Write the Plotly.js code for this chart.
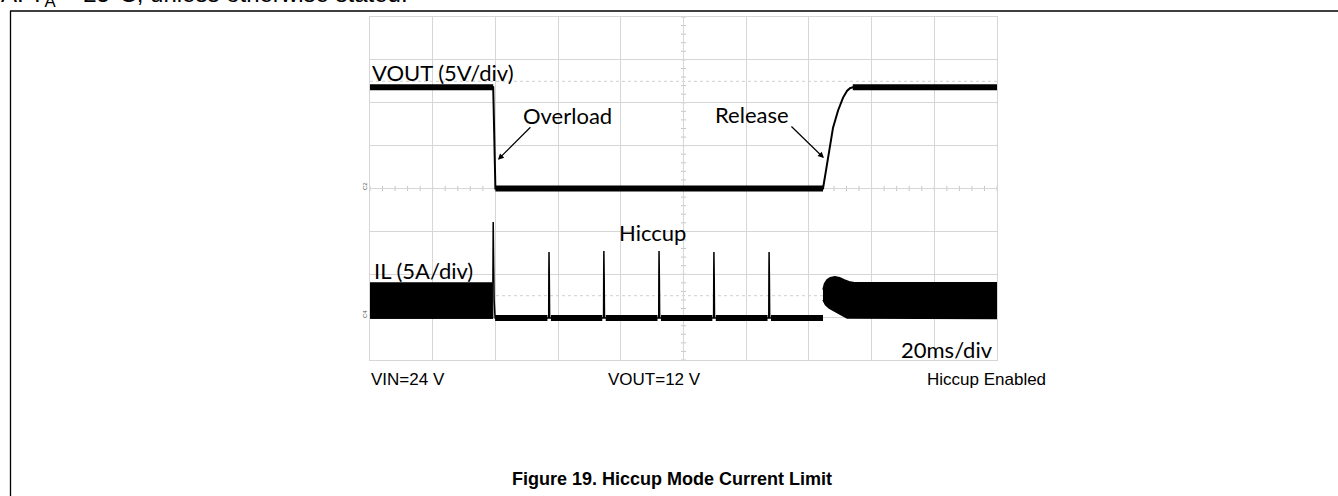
<!DOCTYPE html>
<html>
<head>
<meta charset="utf-8">
<script src="https://cdn.plot.ly/plotly-3.0.1.min.js"></script>
<style>html,body{margin:0;padding:0;background:#fff;}#chart{width:1338px;height:496px;}</style>
</head>
<body>
<div id="chart"></div>
<script>
// ---- data (time in ms, 20 ms/div; VOUT in V, 5 V/div; IL in A, 5 A/div) ----
const voutTime = [0, 39.3, 40.0, 144.5, 145.5, 146.4, 147.7, 149.3, 150.9, 152.2, 153.1, 154.0, 200];
const voutVolts = [11.8, 11.8, 0, 0, 2.2, 4.4, 7.1, 9.1, 10.6, 11.4, 11.7, 11.8, 11.8];

const ilTime = [39.2, 39.3, 39.45, 39.6, 39.9,
  56.6, 57.0, 57.05, 57.1, 57.2, 57.3, 57.7,
  74.1, 74.5, 74.55, 74.6, 74.7, 74.8, 75.2,
  91.7, 92.1, 92.15, 92.2, 92.3, 92.4, 92.8,
  109.2, 109.6, 109.65, 109.7, 109.8, 109.9, 110.3,
  126.8, 127.2, 127.25, 127.3, 127.4, 127.5, 127.9,
  144.5];
const ilAmps = [4.0, 11.1, 6.0, 2.0, -0.1,
  -0.1, -0.1, 5.0, 7.6, 4.5, -0.1, -0.1,
  -0.1, -0.1, 5.0, 7.7, 4.5, -0.1, -0.1,
  -0.1, -0.1, 5.0, 7.7, 4.5, -0.1, -0.1,
  -0.1, -0.1, 5.0, 7.6, 4.5, -0.1, -0.1,
  -0.1, -0.1, 5.0, 7.6, 4.5, -0.1, -0.1,
  -0.1];

// switching ripple envelope before overload
const ilPreTime = [0, 39.2];
const ilPreUpper = [4.0, 4.0];
const ilPreLower = [-0.15, -0.15];
// switching ripple envelope after release
const ilPostUpperTime = [144.5, 145.0, 145.8, 146.8, 148.3, 149.8, 151.3, 152.8, 154.5, 200];
const ilPostUpper = [3.2, 3.9, 4.35, 4.6, 4.7, 4.6, 4.35, 4.12, 4.0, 4.0];
const ilPostLowerTime = [144.5, 145.3, 146.5, 147.7, 149.9, 152.2, 200];
const ilPostLower = [2.0, 1.45, 1.05, 0.75, 0.36, -0.1, -0.15];

const triggerTime = [200.9];
const triggerLevel = [5.2];

const labelTexts = {
  vout: 'VOUT (5V/div)', il: 'IL (5A/div)', overload: 'Overload', release: 'Release',
  hiccup: 'Hiccup', timebase: '20ms/div', vin: 'VIN=24 V', voutSet: 'VOUT=12 V',
  mode: 'Hiccup Enabled', caption: 'Figure 19. Hiccup Mode Current Limit',
  header: 'A: T<sub>A</sub> = 25°C, unless otherwise stated.'
};

// ---- helpers ----
const L = 370, R = 997, T = 17, B = 360;
const px = x => (x - L) / (R - L);
const py = y => (B - y) / (B - T);

function plateaus(t, v, minDur) {
  const xs = [], ys = [];
  for (let i = 0; i < t.length - 1; i++) {
    if (v[i] === v[i + 1] && t[i + 1] - t[i] > minDur) {
      xs.push(t[i], t[i + 1], null); ys.push(v[i], v[i + 1], null);
    }
  }
  return {x: xs, y: ys};
}
function polygon(ut, u, lt, l) {
  return {x: ut.concat(lt.slice().reverse()), y: u.concat(l.slice().reverse())};
}

const voutThick = plateaus(voutTime, voutVolts, 1);
const ilThick = plateaus(ilTime, ilAmps, 1);
const pre = polygon(ilPreTime, ilPreUpper, ilPreTime, ilPreLower);
const post = polygon(ilPostUpperTime, ilPostUpper, ilPostLowerTime, ilPostLower);

const traces = [
  {x: pre.x, y: pre.y, yaxis: 'y2', type: 'scatter', mode: 'lines', fill: 'toself',
   fillcolor: '#000', line: {color: '#000', width: 1}, hoverinfo: 'skip'},
  {x: post.x, y: post.y, yaxis: 'y2', type: 'scatter', mode: 'lines', fill: 'toself',
   fillcolor: '#000', line: {color: '#000', width: 1.5}, hoverinfo: 'skip'},
  {x: ilThick.x, y: ilThick.y, yaxis: 'y2', type: 'scatter', mode: 'lines',
   line: {color: '#000', width: 6}, connectgaps: false},
  {x: ilTime, y: ilAmps, yaxis: 'y2', type: 'scatter', mode: 'lines',
   line: {color: '#000', width: 1.5}},
  {x: voutThick.x, y: voutThick.y, type: 'scatter', mode: 'lines',
   line: {color: '#000', width: 6}, connectgaps: false},
  {x: voutTime, y: voutVolts, type: 'scatter', mode: 'lines',
   line: {color: '#000', width: 2}},
  {x: triggerTime, y: triggerLevel, type: 'scatter', mode: 'markers', cliponaxis: false,
   marker: {symbol: 'triangle-left', size: 5, color: '#000'}}
];

// center-axis minor ticks (5 per division)
const shapes = [];
for (let v = -20; v <= 20; v += 1) {
  shapes.push({type: 'line', xref: 'x', yref: 'y', x0: 99.2, x1: 100.8, y0: v, y1: v,
    line: {color: '#c4c4c4', width: 1}, layer: 'below'});
}
for (let t = 0; t <= 200; t += 4) {
  shapes.push({type: 'line', xref: 'x', yref: 'y', x0: t, x1: t, y0: -0.3, y1: 0.3,
    line: {color: '#c4c4c4', width: 1}, layer: 'below'});
}
// dotted reference lines
[12.5, -12.5].forEach(v => shapes.push({type: 'line', xref: 'paper', yref: 'y', x0: 0, x1: 1,
  y0: v, y1: v, line: {color: '#cfcfcf', width: 1, dash: 'dot'}, layer: 'below'}));
// outer frame
shapes.push({type: 'line', xref: 'paper', yref: 'paper', x0: px(10), x1: px(1340), y0: py(11), y1: py(11),
  line: {color: '#000', width: 1.3}});
shapes.push({type: 'line', xref: 'paper', yref: 'paper', x0: px(10.5), x1: px(10.5), y0: py(11), y1: py(500),
  line: {color: '#000', width: 1.3}});

const lab = 'Lato, "Open Sans", sans-serif';
const ari = '"Liberation Sans", Arial, sans-serif';
const ann = (text, x, y, xa, size, fam, extra) => Object.assign({
  text, xref: 'paper', yref: 'paper', x: px(x), y: py(y), xanchor: xa, yanchor: 'middle',
  showarrow: false, font: {family: fam, size, color: '#000'}, borderpad: 0
}, extra || {});

const annotations = [
  ann(labelTexts.vout, 371, 73, 'left', 22, lab),
  ann(labelTexts.overload, 522, 115, 'left', 22, lab),
  ann(labelTexts.release, 714, 114, 'left', 22, lab),
  ann(labelTexts.hiccup, 618, 233, 'left', 22, lab),
  ann(labelTexts.il, 373, 270, 'left', 22, lab),
  ann(labelTexts.timebase, 994, 349, 'right', 22, lab),
  ann(labelTexts.vin, 370, 379, 'left', 17, ari),
  ann(labelTexts.voutSet, 607, 379, 'left', 17, ari),
  ann(labelTexts.mode, 926, 379, 'left', 17, ari),
  ann('<b>' + labelTexts.caption + '</b>', 672, 479, 'center', 18, ari),
  ann(labelTexts.header, 0, -4, 'left', 24, ari),
  ann('C2', 365, 186, 'center', 6, ari, {textangle: -90, font: {family: ari, size: 6, color: '#555'}}),
  ann('C4', 365, 314, 'center', 6, ari, {textangle: -90, font: {family: ari, size: 6, color: '#555'}}),
  {text: '', xref: 'x', yref: 'y', x: 40.8, y: 3.35, ax: 34, ay: -34, showarrow: true,
   arrowhead: 2, arrowsize: 1, arrowwidth: 1.2, arrowcolor: '#000', standoff: 0},
  {text: '', xref: 'x', yref: 'y', x: 144.8, y: 3.55, ax: -34, ay: -33, showarrow: true,
   arrowhead: 2, arrowsize: 1, arrowwidth: 1.2, arrowcolor: '#000', standoff: 0}
];

const grid = '#d6d6d6';
const layout = {
  width: 1338, height: 496,
  margin: {l: L, r: 1338 - R, t: T, b: 496 - B, pad: 0},
  paper_bgcolor: '#fff', plot_bgcolor: '#fff', showlegend: false,
  xaxis: {range: [0, 200], tick0: 0, dtick: 20, showgrid: true, gridcolor: grid, gridwidth: 1,
    zeroline: false, showticklabels: false, ticks: '', showline: true, linecolor: grid, mirror: true, fixedrange: true},
  yaxis: {range: [-20, 20], tick0: 0, dtick: 5, showgrid: true, gridcolor: grid, gridwidth: 1,
    zeroline: false, showticklabels: false, ticks: '', showline: true, linecolor: grid, mirror: true, fixedrange: true},
  yaxis2: {range: [-5, 35], overlaying: 'y', side: 'right', showgrid: false, zeroline: false,
    showticklabels: false, ticks: '', showline: false, fixedrange: true},
  shapes, annotations
};

Plotly.newPlot('chart', traces, layout, {displayModeBar: false, staticPlot: true});
</script>
</body>
</html>
